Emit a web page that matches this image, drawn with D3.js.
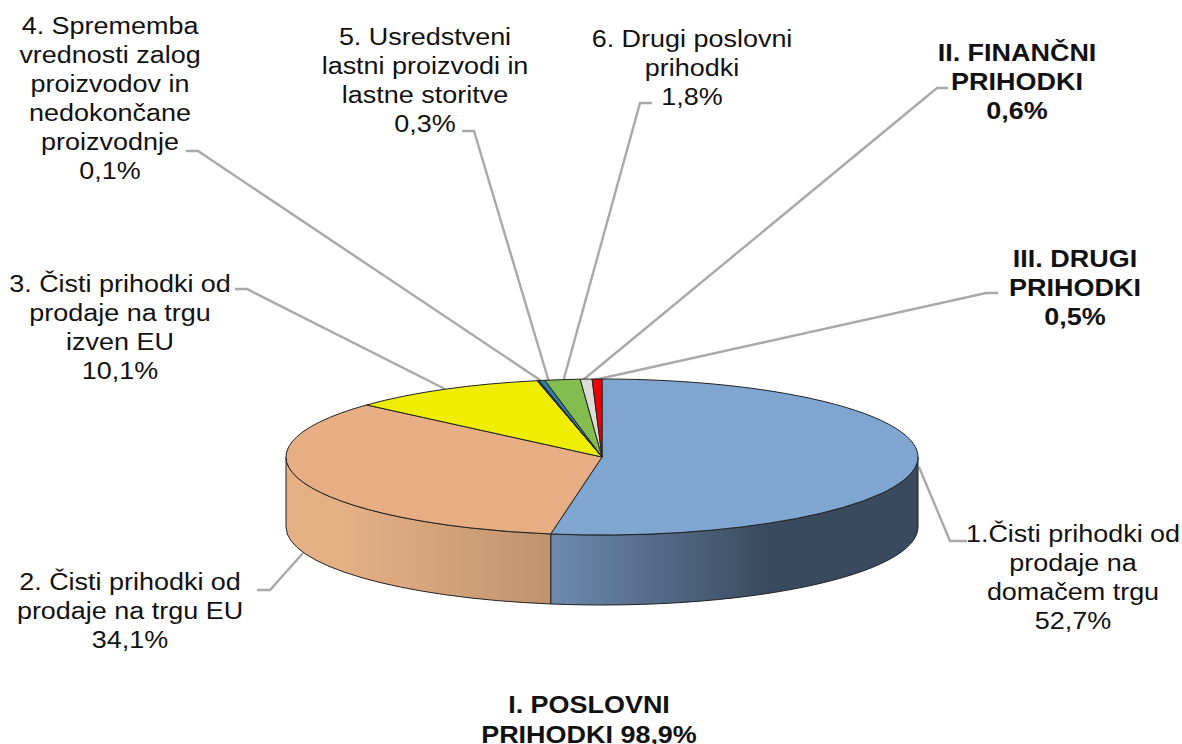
<!DOCTYPE html>
<html>
<head>
<meta charset="utf-8">
<script src="https://cdn.jsdelivr.net/npm/d3@7"></script>
<style>
  html, body { margin: 0; padding: 0; background: #fff; }
  svg { display: block; }
  text { font-family: "Liberation Sans", Arial, sans-serif; font-size: 24.5px; fill: #111; }
</style>
</head>
<body>
<svg id="chart" width="1182" height="744"></svg>
<script>
const categories = [
  "1.Čisti prihodki od domačem trgu",
  "2. Čisti prihodki od prodaje na trgu EU",
  "3. Čisti prihodki od prodaje na trgu izven EU",
  "4. Sprememba vrednosti zalog",
  "5. Usredstveni lastni proizvodi in lastne storitve",
  "6. Drugi poslovni prihodki",
  "II. FINANČNI PRIHODKI",
  "III. DRUGI PRIHODKI"
];
const values = [52.7, 34.1, 10.1, 0.1, 0.3, 1.8, 0.6, 0.5];
const colors = ["#7fa5d1", "#e6ae82", "#f0ee00", "#1f3f6e", "#2f7fa6", "#84bd4f", "#dedcd6", "#ee0000"];
const sideLeft = { 0: "#6d8aae", 1: "#e6b085" };
const sideRight = { 0: "#394a5e", 1: "#c0946f" };

// label text is wrapped by hand like in the original
const labelLines = [
  ["1.Čisti prihodki od", "prodaje na", "domačem trgu", "52,7%"],
  ["2. Čisti prihodki od", "prodaje na trgu EU", "34,1%"],
  ["3. Čisti prihodki od", "prodaje na trgu", "izven EU", "10,1%"],
  ["4. Sprememba", "vrednosti zalog", "proizvodov in", "nedokončane", "proizvodnje", "0,1%"],
  ["5. Usredstveni", "lastni proizvodi in", "lastne storitve", "0,3%"],
  ["6. Drugi poslovni", "prihodki", "1,8%"],
  ["II. FINANČNI", "PRIHODKI", "0,6%"],
  ["III. DRUGI", "PRIHODKI", "0,5%"]
];
const boldLabels = [false, false, false, false, false, false, true, true];
const totalLines = ["I. POSLOVNI", "PRIHODKI 98,9%"];

// layout
const cx = 602, cy = 457, rx = 316, ry = 78, depth = 70;
const labelPos = [[1073, 542], [130, 590], [120, 292], [110, 34], [425, 45], [692, 47], [1017, 61], [1075, 267]];
const lineStep = 29;
const textStretch = 1.1; // original text is a bit wider than the font
const leaders = [
  [[967, 541], [950, 541], [919, 467]],
  [[257, 590], [270, 590], [303, 553]],
  [[235, 289], [247, 289], [445, 389]],
  [[186, 151], [198, 151], [543, 382]],
  [[462, 131], [474, 131], [549, 382]],
  [[652, 103], [640, 103], [563, 382]],
  [[948, 88], [937, 88], [583, 380]],
  [[998, 293], [986, 293], [594, 380]]
];

const svg = d3.select("svg#chart");
const defs = svg.append("defs");

const pie = d3.pie().sort(null).value((d) => d);
const slices = pie(values);

// leader lines go under the pie
const line = d3.line();
svg.selectAll("path.leader")
  .data(leaders)
  .enter()
  .append("path")
  .attr("class", "leader")
  .attr("d", (d) => line(d))
  .attr("fill", "none")
  .attr("stroke", "#a9a9a9")
  .attr("stroke-width", 2.4);

function px(a) { return cx + rx * Math.sin(a); }
function py(a) { return cy - ry * Math.cos(a); }

// side wall, only the front half (angles PI/2 .. 3PI/2) can be seen
const walls = slices
  .map((s, i) => ({
    i: i,
    a0: Math.max(s.startAngle, Math.PI / 2),
    a1: Math.min(s.endAngle, 1.5 * Math.PI)
  }))
  .filter((w) => w.a1 > w.a0);

walls.forEach((w) => {
  const g = defs.append("linearGradient")
    .attr("id", "wall" + w.i)
    .attr("gradientUnits", "userSpaceOnUse")
    .attr("y1", 0)
    .attr("y2", 0);
  if (w.i == 0) {
    g.attr("x1", 550).attr("x2", 770);
    g.append("stop").attr("offset", 0).attr("stop-color", sideLeft[0]);
    g.append("stop").attr("offset", 1).attr("stop-color", sideRight[0]);
  } else {
    g.attr("x1", 340).attr("x2", 550);
    g.append("stop").attr("offset", 0).attr("stop-color", sideLeft[1]);
    g.append("stop").attr("offset", 1).attr("stop-color", sideRight[1]);
  }
});

svg.selectAll("path.wall")
  .data(walls)
  .enter()
  .append("path")
  .attr("class", "wall")
  .attr("d", (w) => {
    const x0 = px(w.a0), y0 = py(w.a0), x1 = px(w.a1), y1 = py(w.a1);
    return `M${x0},${y0}A${rx},${ry} 0 0 1 ${x1},${y1}` +
      `L${x1},${y1 + depth}A${rx},${ry} 0 0 0 ${x0},${y0 + depth}Z`;
  })
  .attr("fill", (w) => `url(#wall${w.i})`)
  .attr("stroke", "#222")
  .attr("stroke-width", 1);

// top face: d3.arc squashed into an ellipse
const arc = d3.arc().innerRadius(0).outerRadius(rx);
svg.append("g")
  .attr("transform", `translate(${cx},${cy}) scale(1,${ry / rx})`)
  .selectAll("path")
  .data(slices)
  .enter()
  .append("path")
  .attr("d", arc)
  .attr("fill", (d, i) => colors[i])
  .attr("stroke", "#222")
  .attr("stroke-width", 1)
  .attr("vector-effect", "non-scaling-stroke");

// labels
const labels = svg.selectAll("text.label")
  .data(labelLines)
  .enter()
  .append("text")
  .attr("class", "label")
  .attr("text-anchor", "middle")
  .attr("transform", (d, i) => `translate(${labelPos[i][0]},${labelPos[i][1]}) scale(${textStretch},1)`)
  .style("font-weight", (d, i) => (boldLabels[i] ? "bold" : "normal"));

labels.each(function (d) {
  d3.select(this)
    .selectAll("tspan")
    .data(d)
    .enter()
    .append("tspan")
    .attr("x", 0)
    .attr("y", (t, j) => j * lineStep)
    .text((t) => t);
});

svg.append("text")
  .attr("text-anchor", "middle")
  .attr("transform", `translate(589,713) scale(${textStretch},1)`)
  .style("font-weight", "bold")
  .selectAll("tspan")
  .data(totalLines)
  .enter()
  .append("tspan")
  .attr("x", 0)
  .attr("y", (t, j) => j * 30)
  .text((t) => t);
</script>
</body>
</html>
